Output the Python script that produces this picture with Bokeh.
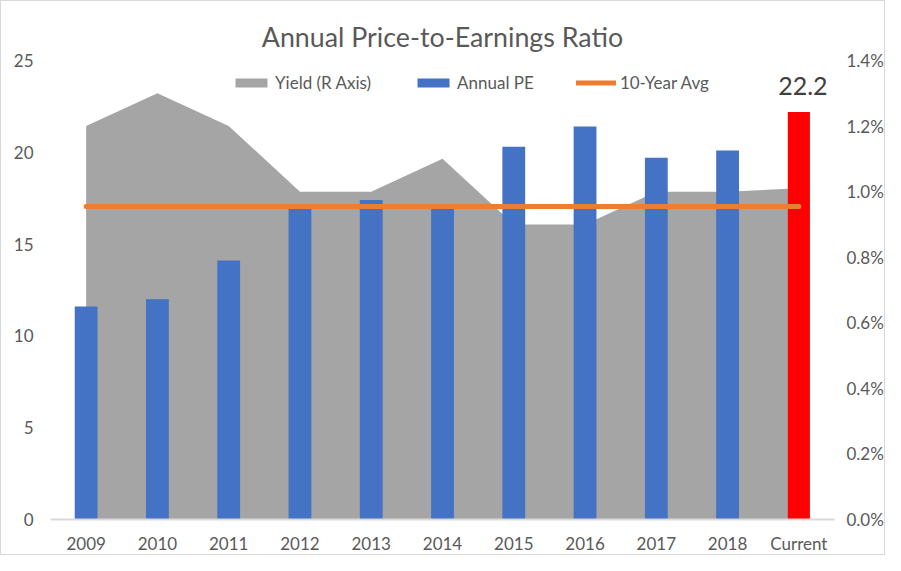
from bokeh.plotting import figure
from bokeh.models import (Range1d, LinearAxis, FixedTicker, NumeralTickFormatter,
                          Legend, LegendItem, ColumnDataSource, FactorRange)
from bokeh.core.properties import value
from bokeh.embed import file_html
from bokeh.resources import INLINE

# ---- data ----
categories = ["2009", "2010", "2011", "2012", "2013", "2014", "2015", "2016", "2017", "2018", "Current"]
annual_pe = [11.6, 12.0, 14.1, 17.1, 17.4, 17.1, 20.3, 21.4, 19.7, 20.1, 22.2]
yield_rate = [0.0120, 0.0130, 0.0120, 0.0100, 0.0100, 0.0110, 0.0090, 0.0090, 0.0100, 0.0100, 0.0101]
avg_pe = 17.05
left_ticks = [0, 5, 10, 15, 20, 25]
right_ticks = [0.0, 0.002, 0.004, 0.006, 0.008, 0.010, 0.012, 0.014]

FONT = "Lato"
TXT = "#595959"

p = figure(x_range=FactorRange(*categories, range_padding=0), y_range=Range1d(0, 25),
           width=885, height=555, output_backend="svg", toolbar_location=None,
           min_border_left=49, min_border_right=50, min_border_top=59, min_border_bottom=34)
p.extra_y_ranges = {"yield": Range1d(0, 0.014)}
p.outline_line_color = None
p.xgrid.visible = False
p.ygrid.visible = False
p.styles = {"border": "1px solid #D9D9D9"}

# title
p.title.text = "Annual Price-to-Earnings Ratio"
p.title.align = "center"
p.title.text_font = FONT
p.title.text_font_size = "26.8px"
p.title.text_font_style = "normal"
p.title.text_color = TXT
p.title.offset = 7
p.title.standoff = 15


def style_axis(ax, standoff):
    ax.major_tick_line_color = None
    ax.minor_tick_line_color = None
    ax.major_tick_out = 0
    ax.major_tick_in = 0
    ax.minor_tick_out = 0
    ax.minor_tick_in = 0
    ax.major_label_text_font = FONT
    ax.major_label_text_font_size = "17px"
    ax.major_label_text_color = TXT
    ax.major_label_standoff = standoff


# axes
p.yaxis.ticker = FixedTicker(ticks=left_ticks)
p.yaxis.axis_line_color = None
style_axis(p.yaxis[0], 17)

p.xaxis.axis_line_color = "#D9D9D9"
p.xaxis.axis_line_width = 2
style_axis(p.xaxis[0], 13)

ax_r = LinearAxis(y_range_name="yield", ticker=FixedTicker(ticks=right_ticks),
                  formatter=NumeralTickFormatter(format="0.0%"))
ax_r.axis_line_color = None
style_axis(ax_r, 12)
p.add_layout(ax_r, "right")

# area (right axis)
r_area = p.varea(x=categories, y1=[0] * len(categories), y2=yield_rate,
                 y_range_name="yield", fill_color="#A5A5A5")

# bars
src_years = ColumnDataSource(dict(x=categories[:-1], top=annual_pe[:-1]))
r_bars = p.vbar(x="x", top="top", width=0.32, source=src_years,
                fill_color="#4472C4", line_color=None)
src_cur = ColumnDataSource(dict(x=categories[-1:], top=annual_pe[-1:],
                                lbl=["%.1f" % v for v in annual_pe[-1:]]))
p.vbar(x="x", top="top", width=0.31, source=src_cur, fill_color="#FF0000", line_color=None)

# average line
r_avg = p.line(x=categories, y=[avg_pe] * len(categories), line_color="#ED7D31",
               line_width=5, line_cap="round")

# data label
p.text(x="x", y="top", text="lbl", source=src_cur, text_font=value(FONT),
       text_font_size="25px", text_color="#404040", text_align="center",
       text_baseline="alphabetic", y_offset=-26, x_offset=4)

legend = Legend(items=[LegendItem(label="Yield (R Axis)", renderers=[r_area]),
                       LegendItem(label="Annual PE", renderers=[r_bars]),
                       LegendItem(label="10-Year Avg", renderers=[r_avg])],
                orientation="horizontal", location=(181, 426),
                glyph_width=40, glyph_height=11, label_standoff=4, spacing=42,
                padding=0, margin=0, background_fill_alpha=0, border_line_color=None,
                label_text_font=FONT, label_text_font_size="17px", label_text_color=TXT)
p.add_layout(legend)

open("out.html", "w").write(file_html(p, INLINE))
